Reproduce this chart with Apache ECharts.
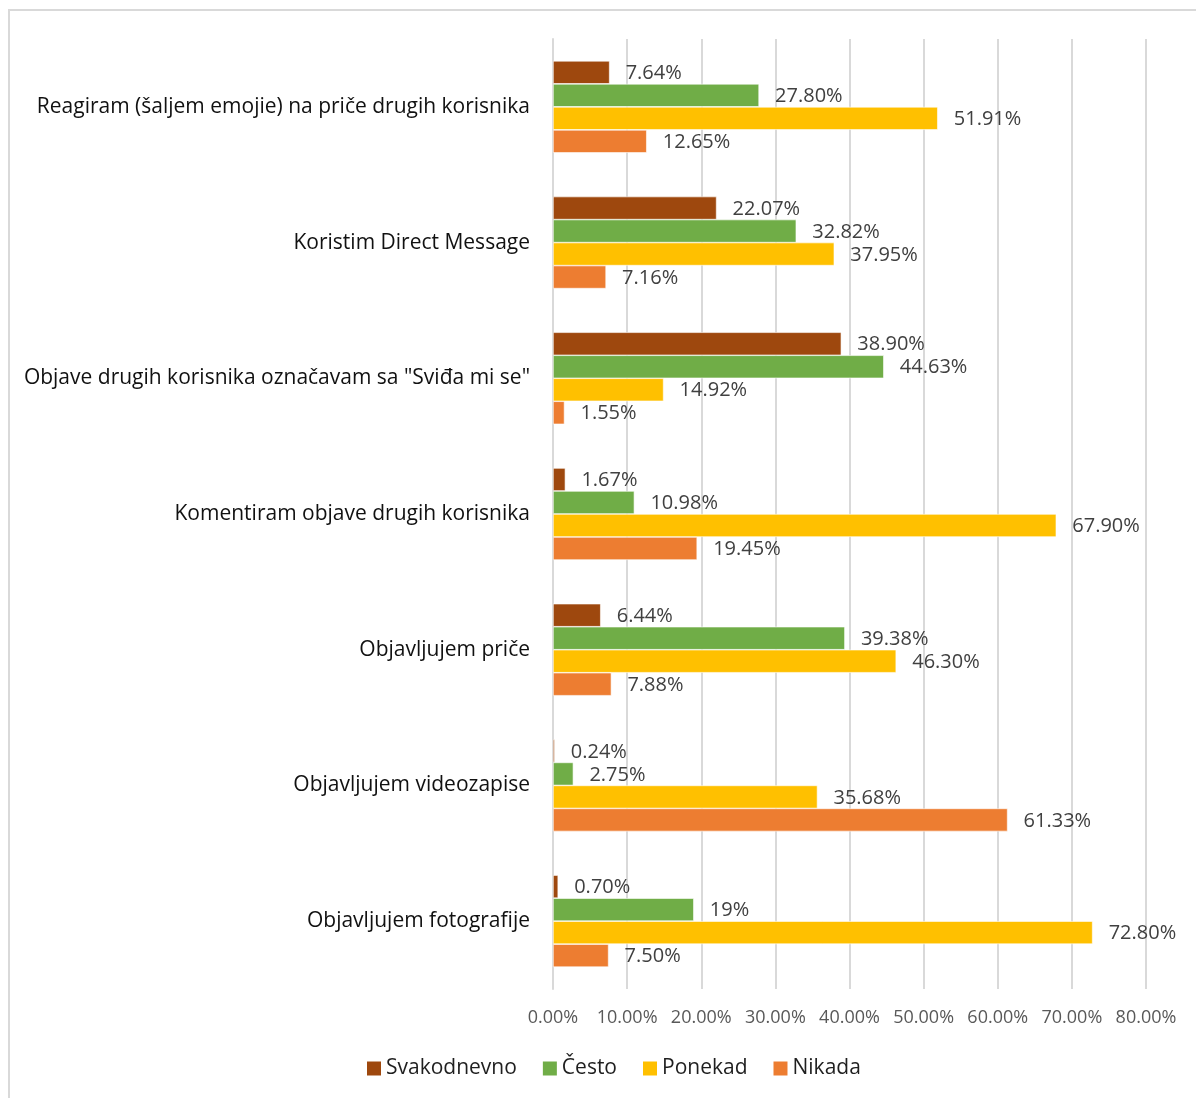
<!DOCTYPE html>
<html>
<head>
<meta charset="utf-8">
<title>Instagram aktivnosti</title>
<script src="https://cdn.jsdelivr.net/npm/echarts@6/dist/echarts.min.js"></script>
<style>
  html, body { margin: 0; padding: 0; background: #fff; overflow: hidden; }
  #main { position: absolute; left: 0; top: 0; width: 1196px; height: 1098px; }
  #frame { position: absolute; left: 8px; top: 9px; width: 1300px; height: 1300px;
           border: 2px solid #d9d9d9; pointer-events: none; }
</style>
</head>
<body>
<div id="main"></div>
<div id="frame"></div>
<script>
  // kategorije odozgo prema dolje
  const categories = [
    'Reagiram (šaljem emojie) na priče drugih korisnika',
    'Koristim Direct Message',
    'Objave drugih korisnika označavam sa "Sviđa mi se"',
    'Komentiram objave drugih korisnika',
    'Objavljujem priče',
    'Objavljujem videozapise',
    'Objavljujem fotografije'
  ]

  const svakodnevno = [7.64, 22.07, 38.90, 1.67, 6.44, 0.24, 0.70]
  const cesto = [27.80, 32.82, 44.63, 10.98, 39.38, 2.75, 19]
  const ponekad = [51.91, 37.95, 14.92, 67.90, 46.30, 35.68, 72.80]
  const nikada = [12.65, 7.16, 1.55, 19.45, 7.88, 61.33, 7.50]

  const seriesNames = ['Svakodnevno', 'Često', 'Ponekad', 'Nikada']
  const seriesColors = ['#9e480e', '#70ad47', '#ffc000', '#ed7d31']
  const xTicks = [0, 10, 20, 30, 40, 50, 60, 70, 80]

  const font = '"Open Sans", "Noto Sans", sans-serif'

  // postotak kao u originalu (19 ostaje "19%")
  function pct (v) {
    return Number.isInteger(v) && v !== 0 ? v + '%' : v.toFixed(2) + '%'
  }

  const myChart = echarts.init(document.getElementById('main'))

  const series = [svakodnevno, cesto, ponekad, nikada].map((vals, i) => ({
    name: seriesNames[i],
    type: 'bar',
    data: vals,
    barWidth: 23,
    barGap: '0%',
    itemStyle: { color: seriesColors[i], borderColor: '#fff', borderWidth: 0.6 },
    label: {
      show: true,
      position: 'right',
      distance: 16,
      offset: [0, 1],
      color: '#404040',
      fontSize: 20,
      fontFamily: font,
      formatter: p => pct(p.value)
    }
  }))

  const option = {
    animation: false,
    textStyle: { fontFamily: font },
    grid: { left: 553, top: 39, width: 593, height: 950, containLabel: false },
    legend: {
      data: seriesNames,
      left: 367,
      top: 1058,
      padding: 0,
      icon: 'rect',
      itemWidth: 14,
      itemHeight: 14,
      itemGap: 26,
      itemStyle: { borderWidth: 0 },
      textStyle: { fontSize: 21, color: '#1f1f1f', fontFamily: font }
    },
    xAxis: {
      type: 'value',
      min: xTicks[0],
      max: xTicks[xTicks.length - 1],
      interval: 10,
      axisLine: { show: false },
      axisTick: { show: false },
      splitLine: { lineStyle: { color: '#d9d9d9', width: 2 } },
      axisLabel: {
        color: '#595959',
        fontSize: 18,
        margin: 20,
        fontFamily: font,
        formatter: v => v.toFixed(2) + '%'
      }
    },
    yAxis: {
      type: 'category',
      inverse: true,
      data: categories,
      axisTick: { show: false },
      axisLine: { show: true, lineStyle: { color: '#d9d9d9', width: 2 } },
      axisLabel: { color: '#111', fontSize: 21, margin: 23, fontFamily: font }
    },
    series: series
  }

  myChart.setOption(option)
</script>
</body>
</html>
